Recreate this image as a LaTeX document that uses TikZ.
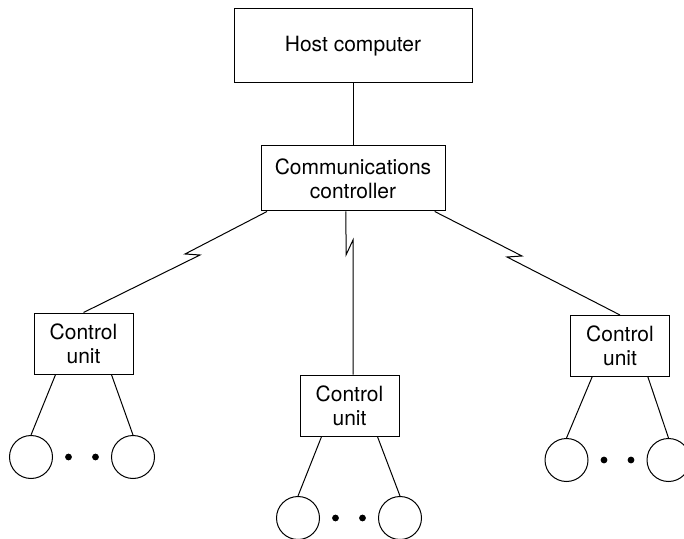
\documentclass[tikz,border=0pt]{standalone}
\usepackage{fontspec}
\setmainfont{TeX Gyre Heros}

\begin{document}
\begin{tikzpicture}[x=0.5pt,y=-0.5pt,line width=0.5pt,
box/.style={draw,rectangle,inner sep=0pt,align=center,font=\fontsize{10.5}{12}\selectfont},
cu/.style={box,minimum width=49.5pt,minimum height=30.5pt},
term/.style={draw,circle,inner sep=0pt,minimum size=21.5pt},
dot/.style={fill,circle,inner sep=0pt,minimum size=3.4pt}]
\useasboundingbox (0,0) rectangle (684,539);
\node[box,minimum width=119pt,minimum height=37pt](host) at (353,46){Host computer};
\node[box,minimum width=92pt,minimum height=32.5pt](comms) at (353,178.5){Communications\\controller};
\draw(host.south)--(comms.north);
%% control units
\node[cu](cuL) at (83.5,343.5){Control\\unit};
\node[cu](cuM) at (349.5,405.5){Control\\unit};
\node[cu](cuR) at (620,346){Control\\unit};
\coordinate(boltL1) at (185,254);
\coordinate(boltL2) at (200,255);
\coordinate(boltM1) at (346,255);
\coordinate(boltM2) at (353,240);
\coordinate(boltR1) at (522,256);
\coordinate(boltR2) at (507,257);
\draw(comms.201)--(boltL1)--(boltL2)--(cuL.north);
\draw(comms.-102)--(boltM1)--(boltM2)--(boltM2|-cuM.north);
\draw(comms.-22)--(boltR1)--(boltR2)--(cuR.north);
%% terminals
\foreach \n/\cx/\cy in {L/82/457,M/349/518,R/617.5/460}{
\node[term](term\n a) at (\cx-51,\cy){};
\node[term](term\n b) at (\cx+51,\cy){};
\node[dot](dot\n a) at (\cx-13.5,\cy){};
\node[dot](dot\n b) at (\cx+13.5,\cy){};
\draw(cu\n.-132)--(term\n a.north)
(cu\n.-48)--(term\n b.north);
}
\end{tikzpicture}
\end{document}
